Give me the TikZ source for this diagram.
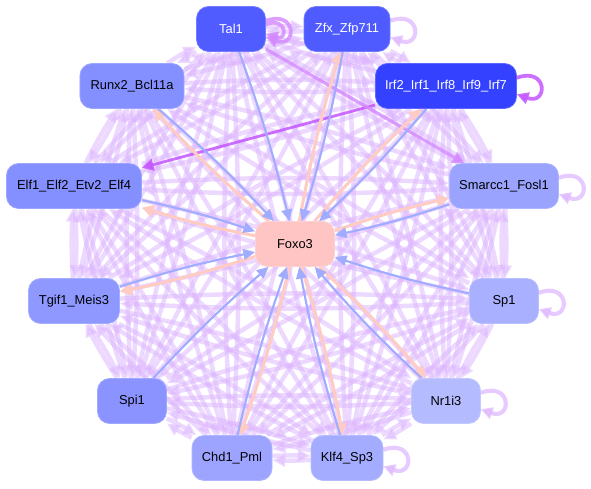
\documentclass[tikz,border=0pt]{standalone}
\usepackage{fontspec}
\setmainfont{Liberation Sans}
\usetikzlibrary{arrows.meta,backgrounds}
\definecolor{ctal}{HTML}{505CFF}
\definecolor{czfx}{HTML}{4F5BFF}
\definecolor{cirf}{HTML}{3441FF}
\definecolor{crun}{HTML}{8490FF}
\definecolor{celf}{HTML}{8490FF}
\definecolor{csma}{HTML}{9AA4FF}
\definecolor{ctgi}{HTML}{8E98FF}
\definecolor{cspo}{HTML}{A8B0FF}
\definecolor{cspi}{HTML}{8A93FF}
\definecolor{cnri}{HTML}{B4BBFF}
\definecolor{cchd}{HTML}{9CA4FF}
\definecolor{cklf}{HTML}{A4ACFF}
\definecolor{cfox}{HTML}{FFC4C4}
\definecolor{edgep}{HTML}{DDB4FF}
\definecolor{edged}{HTML}{C455FF}
\definecolor{edgem}{HTML}{D488FF}
\definecolor{edgeb}{HTML}{A0ACFF}
\definecolor{edgek}{HTML}{FFCCC4}
\begin{document}
\begin{tikzpicture}[x=0.03cm,y=-0.03cm,
  gn/.style={rounded corners=0.36cm, minimum height=1.35cm, inner sep=0pt,
    font=\fontsize{11}{13}\selectfont, draw=#1!80!white, fill=#1, line width=0.6pt},
  wt/.style={text=white},
  pe/.style={draw=edgep, line width=3.8pt, opacity=0.5, -{Triangle[length=11pt,width=10pt]}},
  de/.style={draw=edged, line width=2.4pt, opacity=0.85, -{Triangle[length=10pt,width=10pt]}},
  me/.style={draw=edgem, line width=2.8pt, opacity=0.8, -{Triangle[length=10pt,width=10pt]}},
  be/.style={draw=edgeb, line width=1.8pt, -{Triangle[length=10pt,width=9pt]}},
  ke/.style={draw=edgek, line width=2.6pt, -{Triangle[length=10pt,width=10pt]}},
  lp/.style={draw=edgep, line width=3.5pt, opacity=0.7, -{Triangle[length=10pt,width=10pt]}},
  ldp/.style={draw=edged, line width=3.2pt, opacity=0.85, -{Triangle[length=10pt,width=10pt]}},
  lmp/.style={draw=edgem, line width=3.2pt, opacity=0.8, -{Triangle[length=10pt,width=10pt]}}]
\useasboundingbox (0,0) rectangle (591,489);
% nodes
\node[gn=ctal, wt, minimum width=2.07cm] (tal) at (231,29) {Tal1};
\node[gn=czfx, wt, minimum width=2.58cm] (zfx) at (347,29) {Zfx\_Zfp711};
\node[gn=cirf, wt, minimum width=4.23cm] (irf) at (446,86) {Irf2\_Irf1\_Irf8\_Irf9\_Irf7};
\node[gn=crun, minimum width=3.12cm] (run) at (132,86) {Runx2\_Bcl11a};
\node[gn=celf, minimum width=4.05cm] (elf) at (74,186) {Elf1\_Elf2\_Etv2\_Elf4};
\node[gn=csma, minimum width=3.27cm] (sma) at (504,186) {Smarcc1\_Fosl1};
\node[gn=cfox, minimum width=2.37cm] (fox) at (295,244) {Foxo3};
\node[gn=ctgi, minimum width=2.73cm] (tgi) at (74,301) {Tgif1\_Meis3};
\node[gn=cspo, minimum width=2.07cm] (spo) at (504,301) {Sp1};
\node[gn=cspi, minimum width=2.07cm] (spi) at (132,401) {Spi1};
\node[gn=cnri, minimum width=2.07cm] (nri) at (446,401) {Nr1i3};
\node[gn=cchd, minimum width=2.40cm] (chd) at (232,458) {Chd1\_Pml};
\node[gn=cklf, minimum width=2.16cm] (klf) at (347,458) {Klf4\_Sp3};
\begin{scope}[on background layer]
\fill[white] (0,0) rectangle (591,489);
% full mesh among outer nodes
\foreach \a [count=\i] in {tal,zfx,irf,sma,spo,nri,klf,chd,spi,tgi,elf,run}{
  \foreach \b [count=\j] in {tal,zfx,irf,sma,spo,nri,klf,chd,spi,tgi,elf,run}{
    \ifnum\j>\i
      \draw[pe] (\a) to[bend left=3] (\b);
      \draw[pe] (\b) to[bend left=3] (\a);
    \fi
  }
}
% darker edges
\draw[de] (irf) to (elf);
\draw[me] (tal) to (sma);
% self loops
\draw[lmp] ([yshift=7pt]tal.east) .. controls +(20:1.0cm) and +(-20:1.0cm) .. ([yshift=-7pt]tal.east);
\draw[lmp] ([yshift=4pt]tal.east) .. controls +(20:0.7cm) and +(-20:0.7cm) .. ([yshift=-4pt]tal.east);
\draw[lp] ([yshift=7pt]zfx.east) .. controls +(20:1.0cm) and +(-20:1.0cm) .. ([yshift=-7pt]zfx.east);
\draw[ldp] ([yshift=7pt]irf.east) .. controls +(20:1.0cm) and +(-20:1.0cm) .. ([yshift=-7pt]irf.east);
\draw[lp] ([yshift=7pt]sma.east) .. controls +(20:1.0cm) and +(-20:1.0cm) .. ([yshift=-7pt]sma.east);
\draw[lp] ([yshift=7pt]spo.east) .. controls +(20:1.0cm) and +(-20:1.0cm) .. ([yshift=-7pt]spo.east);
\draw[lp] ([yshift=7pt]nri.east) .. controls +(20:1.0cm) and +(-20:1.0cm) .. ([yshift=-7pt]nri.east);
\draw[lp] ([yshift=7pt]klf.east) .. controls +(20:1.0cm) and +(-20:1.0cm) .. ([yshift=-7pt]klf.east);
% Foxo3 edges
\foreach \a in {run,elf,tgi,nri,chd,klf,zfx,irf,sma}{
  \draw[ke] (fox) to[bend left=3] (\a);
}
\foreach \a in {tal,zfx,irf,sma,spo,nri,klf,chd,spi,tgi,elf,run}{
  \draw[be] (\a) to[bend left=3] (fox);
}
\end{scope}
\end{tikzpicture}
\end{document}
